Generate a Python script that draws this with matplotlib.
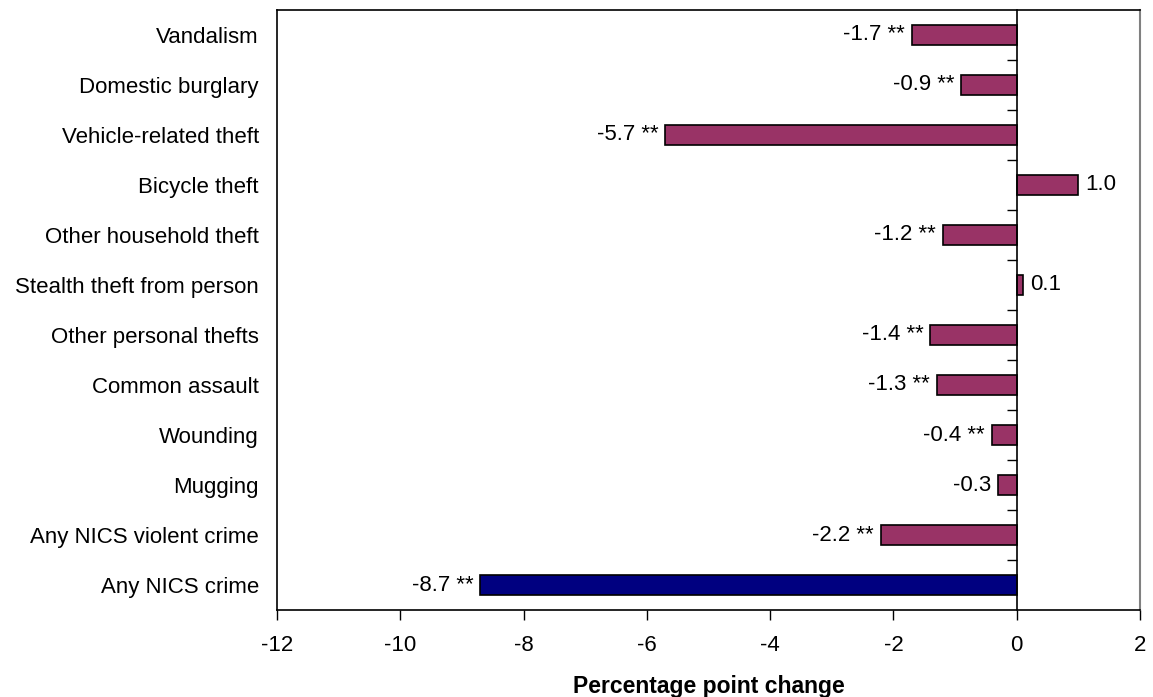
import numpy as np
import matplotlib
matplotlib.use("Agg")
import matplotlib.pyplot as plt

plt.rcParams['font.family'] = ['Liberation Sans', 'DejaVu Sans']

# data (top to bottom as shown)
categories = ["Vandalism", "Domestic burglary", "Vehicle-related theft", "Bicycle theft",
              "Other household theft", "Stealth theft from person", "Other personal thefts",
              "Common assault", "Wounding", "Mugging", "Any NICS violent crime", "Any NICS crime"]
changes = [-1.7, -0.9, -5.7, 1.0, -1.2, 0.1, -1.4, -1.3, -0.4, -0.3, -2.2, -8.7]
significant = [True, True, True, False, True, False, True, True, True, False, True, True]
x_ticks = [-12, -10, -8, -6, -4, -2, 0, 2]

n = len(categories)
ypos = np.arange(n)[::-1]  # first category on top
colors = ["#993366"] * (n - 1) + ["#000080"]

fig = plt.figure(figsize=(11.53, 6.97), dpi=100)
ax = fig.add_axes([0.2402, 0.1248, 0.9887 - 0.2402, 0.9857 - 0.1248])

ax.barh(ypos, changes, height=0.4, color=colors, edgecolor="black", linewidth=1.2, zorder=3)

for y, v, s in zip(ypos, changes, significant):
    lab = "%.1f" % v + (" **" if s else "")
    if v < 0:
        ax.annotate(lab, (v, y), xytext=(-5, 0), textcoords="offset points",
                    ha="right", va="center", fontsize=16)
    else:
        ax.annotate(lab, (v, y), xytext=(5, 0), textcoords="offset points",
                    ha="left", va="center", fontsize=16)

ax.set_xlim(-12, 2)
ax.set_ylim(-0.5, n - 0.5)
ax.set_xticks(x_ticks)
ax.set_xticklabels([str(t) for t in x_ticks], fontsize=16)
ax.tick_params(axis="x", direction="out", length=7, width=1, pad=11)
ax.set_yticks(ypos)
ax.set_yticklabels(categories, fontsize=16)
ax.tick_params(axis="y", length=0, pad=13)

for side in ["left", "top", "bottom"]:
    ax.spines[side].set_color("black")
    ax.spines[side].set_linewidth(1.2)
ax.spines["right"].set_color("#808080")
ax.spines["right"].set_linewidth(1.5)

# category axis drawn at x = 0 with ticks between categories
ax2 = ax.twinx()
ax2.set_ylim(ax.get_ylim())
for side in ["right", "top", "bottom"]:
    ax2.spines[side].set_visible(False)
ax2.spines["left"].set_position(("data", 0))
ax2.spines["left"].set_linewidth(1.2)
ax2.yaxis.set_ticks_position("left")
ax2.set_yticks(np.arange(n - 1) + 0.5)
ax2.set_yticklabels([])
ax2.tick_params(axis="y", direction="out", length=7, width=1)

ax.set_xlabel("Percentage point change", fontsize=16.5, fontweight="bold", labelpad=14)

fig.savefig("out.png", dpi=100)
